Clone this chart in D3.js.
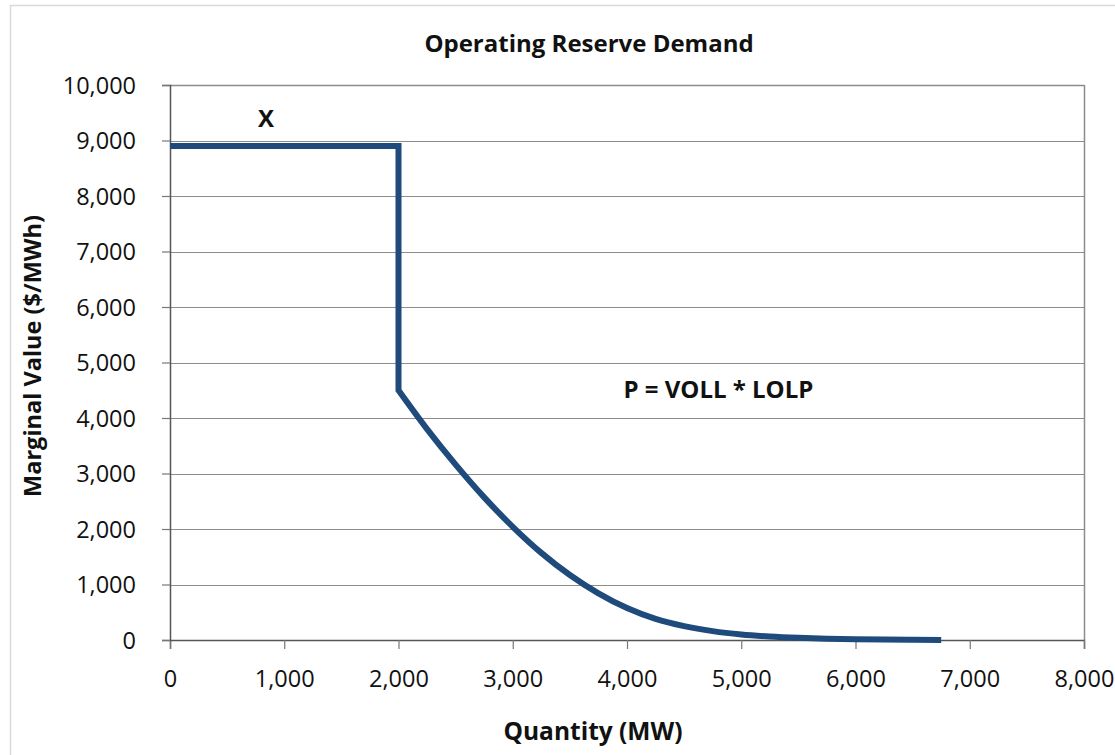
<!DOCTYPE html>
<html><head><meta charset="utf-8">
<script src="https://cdn.jsdelivr.net/npm/d3@7"></script>
<style>body{margin:0;background:#fff}svg{display:block}</style>
</head><body>
<svg id="c" width="1115" height="755"></svg>
<script>
const title = "Operating Reserve Demand";
const xTitle = "Quantity (MW)";
const yTitle = "Marginal Value ($/MWh)";
const xTicks = [0,1000,2000,3000,4000,5000,6000,7000,8000];
const yTicks = [0,1000,2000,3000,4000,5000,6000,7000,8000,9000,10000];
// step part of the demand curve (MW, $/MWh)
const stepQuantity = [0,2000,2000];
const stepValue    = [8900,8900,4500];
// smooth tail: P = VOLL * LOLP
const tailQuantity = [2000,2250,2500,2750,3000,3250,3500,3750,4000,4250,4500,4750,5000,5250,5500,5750,6000,6250,6500,6750];
const tailValue    = [4500,3800,3160,2570,2040,1570,1170,840,575,380,250,160,100,63,39,23,13,7,3,1];
const annotations = [{text:"X", q:840, v:9400},{text:"P = VOLL * LOLP", q:4800, v:4520}];

const svg = d3.select("#c");
const font = "'Open Sans', 'Liberation Sans', sans-serif";
const m = {l:170, r:1084, t:85, b:640};
const x = d3.scaleLinear().domain([0,8000]).range([m.l, m.r]);
const y = d3.scaleLinear().domain([0,10000]).range([m.b, m.t]);
const fmt = d3.format(",");

svg.append("rect").attr("x",10.5).attr("y",5.5).attr("width",1110).attr("height",770)
  .attr("fill","#fff").attr("stroke","#d9d9d9").attr("stroke-width",1.5);

// gridlines
svg.append("g").selectAll("line").data(yTicks.filter(d=>d>0)).join("line")
  .attr("x1",m.l).attr("x2",m.r).attr("y1",d=>Math.round(y(d))+0.5).attr("y2",d=>Math.round(y(d))+0.5)
  .attr("stroke","#8c8c8c").attr("stroke-width",1.2);
svg.append("line").attr("x1",m.r+0.5).attr("x2",m.r+0.5).attr("y1",m.t).attr("y2",m.b)
  .attr("stroke","#8c8c8c").attr("stroke-width",1.5);
svg.append("line").attr("x1",m.l).attr("x2",m.r).attr("y1",m.t+0.5).attr("y2",m.t+0.5)
  .attr("stroke","#8c8c8c").attr("stroke-width",1.5);

// axes
const xAxis = svg.append("g").attr("transform",`translate(0,${m.b})`)
  .call(d3.axisBottom(x).tickValues(xTicks).tickFormat(fmt).tickSize(9).tickPadding(22));
const yAxis = svg.append("g").attr("transform",`translate(${m.l},0)`)
  .call(d3.axisLeft(y).tickValues(yTicks).tickFormat(fmt).tickSize(8).tickPadding(26));
[xAxis,yAxis].forEach(a=>{
  a.select(".domain").attr("stroke","#555").attr("stroke-width",1.5);
  a.selectAll(".tick line").attr("stroke","#777").attr("stroke-width",1.2);
  a.selectAll("text").attr("font-family",font).attr("font-size",23.5).attr("fill","#111");
});
xAxis.selectAll(".tick text").attr("dy","0").attr("y",47);
yAxis.selectAll("text").attr("dy","0.36em");

// curve: linear step + monotone tail in one path
const stepD = d3.line().x(d=>x(d)).y((d,i)=>y(stepValue[i]))(stepQuantity);
const tailD = d3.line().x(d=>x(d)).y((d,i)=>y(tailValue[i])).curve(d3.curveMonotoneX)(tailQuantity);
svg.append("path").attr("d", stepD + tailD.replace(/^M/,"L"))
  .attr("fill","none").attr("stroke","#1f4a7c").attr("stroke-width",6)
  .attr("stroke-linejoin","miter");

// titles
svg.append("text").attr("x",589).attr("y",44).attr("text-anchor","middle").attr("dy","0.35em")
  .attr("font-family",font).attr("font-weight","bold").attr("font-size",24).attr("fill","#111").text(title);
svg.append("text").attr("x",593).attr("y",731).attr("text-anchor","middle").attr("dy","0.35em")
  .attr("font-family",font).attr("font-weight","bold").attr("font-size",24.5).attr("fill","#111").text(xTitle);
svg.append("text").attr("transform","translate(33,356) rotate(-90)").attr("text-anchor","middle").attr("dy","0.35em")
  .attr("font-family",font).attr("font-weight","bold").attr("font-size",23.5).attr("fill","#111").text(yTitle);

svg.append("g").selectAll("text").data(annotations).join("text")
  .attr("x",d=>x(d.q)).attr("y",d=>y(d.v)).attr("text-anchor","middle").attr("dy","0.35em")
  .attr("font-family",font).attr("font-weight","bold").attr("font-size",24).attr("fill","#111")
  .text(d=>d.text);
</script>
</body></html>
